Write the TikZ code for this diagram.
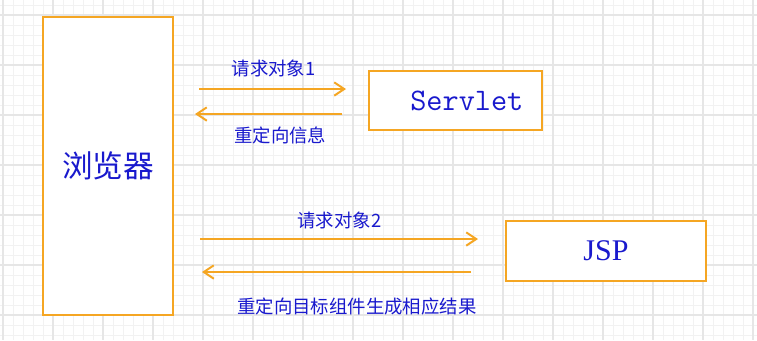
\documentclass[tikz,border=0pt]{standalone}
\usepackage{fontspec}
\usepackage{xcolor}
\usepackage{tikz}
\usetikzlibrary{arrows.meta}
\newfontfamily\cjk{Noto Sans CJK SC}
\newfontfamily\jspfont{Liberation Serif}
\definecolor{boxline}{RGB}{245,166,35}
\definecolor{txtblue}{RGB}{25,25,205}
\definecolor{gridminor}{RGB}{242,242,242}
\definecolor{gridmajor}{RGB}{230,230,230}

\begin{document}
\begin{tikzpicture}[
  x=0.75pt,y=-0.75pt,
  blk/.style={draw=boxline,line width=1.5pt,fill=white,inner sep=0pt,
              text=txtblue,align=center},
  lbl/.style={font=\cjk\fontsize{13.8}{15}\selectfont,text=txtblue,inner sep=1pt},
  ar/.style={-{Straight Barb[length=7.5pt,width=10pt,line width=1.5pt]},
             draw=boxline,line width=1.5pt}
]
\fill[white] (0,0) rectangle (757,340);
\useasboundingbox (0,0) rectangle (757,340);
% background grid
\foreach \gx in {3,13,...,753} \draw[gridminor,line width=0.75pt] (\gx,0) -- (\gx,340);
\foreach \gy in {5,15,...,335} \draw[gridminor,line width=0.75pt] (0,\gy) -- (757,\gy);
\foreach \gx in {3,53,...,753} \draw[gridmajor,line width=1pt] (\gx,0) -- (\gx,340);
\foreach \gy in {15,65,...,315} \draw[gridmajor,line width=1pt] (0,\gy) -- (757,\gy);

\node[blk,minimum width=97.5pt,minimum height=223.5pt,
      font=\cjk\fontsize{23}{26}\selectfont] (browser) at (108,166) {浏览器};
\node[blk,minimum width=129.75pt,minimum height=44.25pt,
      font=\ttfamily\fontsize{23.5}{26}\selectfont] (servlet) at (455.5,100.5) {\hspace*{17pt}Servlet};
\node[blk,minimum width=150pt,minimum height=45pt,
      font=\jspfont\fontsize{22.5}{26}\selectfont] (jsp) at (606,251) {JSP};

\coordinate (rowa) at (0,89);
\coordinate (rowb) at (0,114);
\coordinate (rowc) at (0,239);
\coordinate (rowd) at (0,272);

\draw[ar,shorten <=18.75pt,shorten >=16.5pt] (browser.east |- rowa) --
  node[lbl,above=7pt,xshift=2pt] (reqa) {请求对象1} (servlet.west |- rowa);
\draw[ar,shorten <=19.5pt,shorten >=15.75pt] (servlet.west |- rowb) --
  node[lbl,below=8pt,xshift=7pt] (redir) {重定向信息} (browser.east |- rowb);
\draw[ar,shorten <=19.5pt,shorten >=20.25pt] (browser.east |- rowc) --
  node[lbl,above=6pt] (reqb) {请求对象2} (jsp.west |- rowc);
\draw[ar,shorten <=25.5pt,shorten >=21pt] (jsp.west |- rowd) --
  node[lbl,below=18pt,xshift=13pt] (result) {重定向目标组件生成相应结果} (browser.east |- rowd);
\end{tikzpicture}
\end{document}
